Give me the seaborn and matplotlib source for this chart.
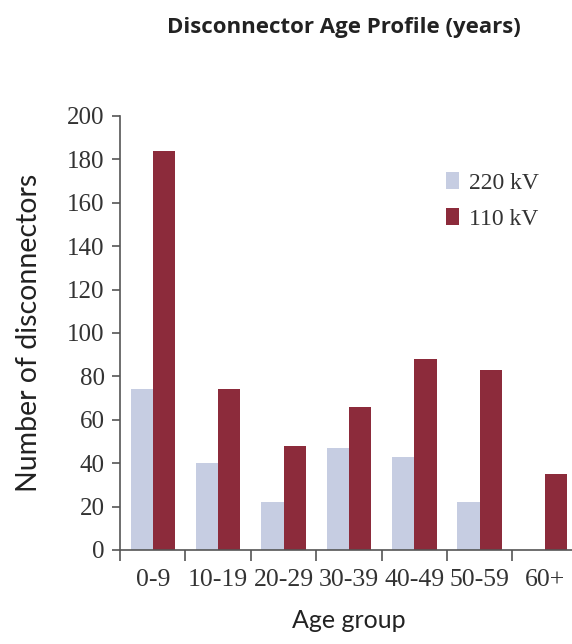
import matplotlib
matplotlib.use("Agg")
import matplotlib.pyplot as plt
import seaborn as sns
import pandas as pd

age_groups = ["0-9", "10-19", "20-29", "30-39", "40-49", "50-59", "60+"]
kv220 = [74, 40, 22, 47, 43, 22, 0]
kv110 = [184, 74, 48, 66, 88, 83, 35]
series_names = ["220 kV", "110 kV"]
y_ticks = [0, 20, 40, 60, 80, 100, 120, 140, 160, 180, 200]

df = pd.DataFrame({
    "Age group": age_groups * 2,
    "Count": kv220 + kv110,
    "Voltage": [series_names[0]] * len(age_groups) + [series_names[1]] * len(age_groups),
})

sns.set_theme(style="white")
plt.rcParams["font.family"] = ["DejaVu Sans"]

fig = plt.figure(figsize=(5.72, 6.44), dpi=100)
ax = fig.add_axes([0.210, 0.146, 0.800, 0.674])

palette = {"220 kV": "#c6cde2", "110 kV": "#8c2b3b"}
sns.barplot(data=df, x="Age group", y="Count", hue="Voltage", palette=palette,
            width=0.68, gap=0, saturation=1, linewidth=0, ax=ax, legend=True)

ax.set_xlim(-0.5, 6.5)
ax.set_ylim(0, 200)
ax.set_yticks(y_ticks)
ax.set_yticklabels([str(v) for v in y_ticks], family="Liberation Serif", fontsize=18, color="#333333")
ax.set_xticks(range(len(age_groups)))
ax.set_xticklabels(age_groups, family="Liberation Serif", fontsize=18.5, color="#333333")
ax.tick_params(axis="x", length=0, pad=14)
# boundary ticks
ax.set_xticks([i - 0.5 for i in range(len(age_groups) + 1)], minor=True)
ax.tick_params(axis="x", which="minor", length=8, width=1.2, color="#555555", direction="out", bottom=True)
ax.tick_params(axis="y", length=6, width=1.2, color="#555555", direction="out", left=True, pad=5)

for s in ["top", "right"]:
    ax.spines[s].set_visible(False)
for s in ["left", "bottom"]:
    ax.spines[s].set_color("#555555")
    ax.spines[s].set_linewidth(1.2)

ax.set_ylabel("Number of disconnectors", family="Lato", fontsize=20.5, color="#222222", labelpad=18)
ax.set_xlabel("Age group", family="Lato", fontsize=18, color="#222222", labelpad=13)

leg = ax.legend(loc="upper left", bbox_to_anchor=(0.665, 0.92), frameon=False,
                prop={"family": "Liberation Serif", "size": 17},
                handlelength=0.55, handleheight=0.75, handletextpad=0.45, labelspacing=0.6)
for t in leg.get_texts():
    t.set_color("#333333")

fig.text(0.602, 0.958, "Disconnector Age Profile (years)", ha="center", va="center",
         family="Open Sans", fontweight="bold", fontsize=16, color="#222222")

fig.savefig("out.png", dpi=100, facecolor="white")
